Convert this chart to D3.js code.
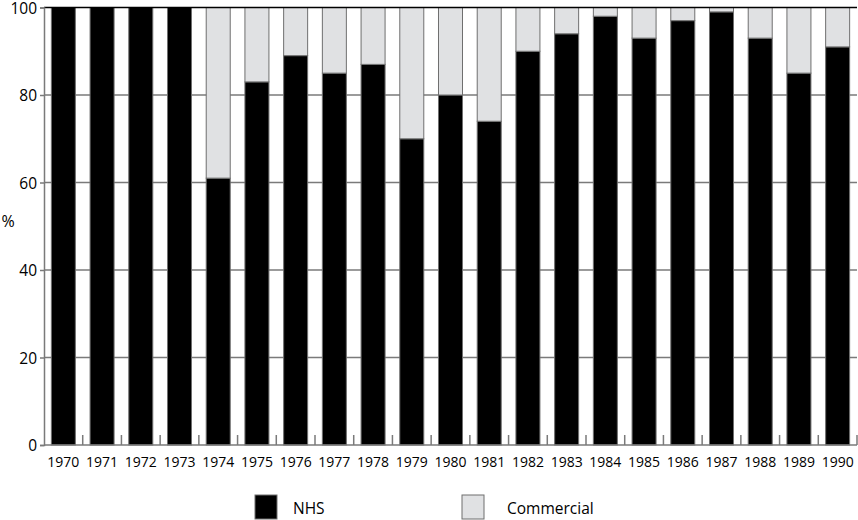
<!DOCTYPE html>
<html>
<head>
<meta charset="utf-8">
<script src="https://cdn.jsdelivr.net/npm/d3@7"></script>
<style>
  body { margin: 0; background: #fff; }
  svg text { font-family: "Open Sans", "Noto Sans", sans-serif; fill: #000; }
</style>
</head>
<body>
<svg id="chart" width="858" height="520"></svg>
<script>
const years = ['1970', '1971', '1972', '1973', '1974', '1975', '1976', '1977', '1978', '1979',
    '1980', '1981', '1982', '1983', '1984', '1985', '1986', '1987', '1988', '1989', '1990'];
const nhs = [100, 100, 100, 100, 61, 83, 89, 85, 87, 70, 80, 74, 90, 94, 98, 93, 97, 99, 93, 85, 91];
const commercial = nhs.map(v => 100 - v);
const yTicks = [0, 20, 40, 60, 80, 100];
const seriesNames = ['NHS', 'Commercial'];
const seriesColors = ['#000000', '#e0e1e3'];

const margin = { top: 7.5, right: 1, bottom: 75, left: 44 };
const width = 858 - margin.left - margin.right;
const height = 520 - margin.top - margin.bottom;

const svg = d3.select('#chart');
const g = svg.append('g').attr('transform', `translate(${margin.left},${margin.top})`);

const x = d3.scaleBand().domain(years).range([0, width]).paddingInner(0.38).paddingOuter(0.19);
const y = d3.scaleLinear().domain([0, 100]).range([height, 0]);

// gridlines
g.append('g')
    .selectAll('line')
    .data(yTicks.filter(t => t > 0 && t < 100))
    .join('line')
    .attr('x1', 0).attr('x2', width)
    .attr('y1', d => y(d)).attr('y2', d => y(d))
    .attr('stroke', '#7a7a7a').attr('stroke-width', 1.5);

// stacked bars
const rows = years.map((yr, i) => ({ year: yr, NHS: nhs[i], Commercial: commercial[i] }));
const stacked = d3.stack().keys(seriesNames)(rows);

g.append('g')
    .selectAll('g')
    .data(stacked)
    .join('g')
    .attr('fill', (d, i) => seriesColors[i])
    .selectAll('rect')
    .data(d => d.filter(p => p[1] - p[0] > 0))
    .join('rect')
    .attr('x', d => x(d.data.year))
    .attr('y', d => y(d[1]))
    .attr('width', x.bandwidth())
    .attr('height', d => y(d[0]) - y(d[1]))
    .attr('stroke', '#6f6f6f')
    .attr('stroke-width', 1);

// top line at 100
g.append('line')
    .attr('x1', 0).attr('x2', width)
    .attr('y1', y(100)).attr('y2', y(100))
    .attr('stroke', '#000').attr('stroke-width', 1.5);

// y axis
const yAxis = g.append('g')
    .call(d3.axisLeft(y).tickValues(yTicks).tickSize(4).tickPadding(3));
yAxis.select('.domain').attr('stroke', '#7a7a7a').attr('stroke-width', 1.5);
yAxis.selectAll('.tick line').attr('stroke', '#7a7a7a').attr('stroke-width', 1.5);
yAxis.selectAll('text').style('font-size', '15.5px').attr('dy', '0.36em');

// x axis with ticks between bars
const xAxis = g.append('g').attr('transform', `translate(0,${height})`);
xAxis.append('line')
    .attr('x1', 0).attr('x2', width)
    .attr('stroke', '#7a7a7a').attr('stroke-width', 1.5);
xAxis.selectAll('.sep')
    .data(years.slice(1).concat(['end']))
    .join('line')
    .attr('class', 'sep')
    .attr('x1', (d, i) => x.step() * (i + 1)).attr('x2', (d, i) => x.step() * (i + 1))
    .attr('y1', 0).attr('y2', -10)
    .attr('stroke', '#7a7a7a').attr('stroke-width', 1.5);
xAxis.selectAll('text')
    .data(years)
    .join('text')
    .attr('x', d => x(d) + x.bandwidth() / 2)
    .attr('y', 22)
    .attr('text-anchor', 'middle')
    .style('font-size', '14px')
    .text(d => d);

// y label
svg.append('text')
    .attr('x', 8).attr('y', 227)
    .attr('text-anchor', 'middle')
    .style('font-size', '16px')
    .text('%');

// legend
const legendX = [255, 462];
const legend = svg.append('g');
seriesNames.forEach((name, i) => {
    legend.append('rect')
        .attr('x', legendX[i]).attr('y', 495)
        .attr('width', 22).attr('height', 24)
        .attr('fill', seriesColors[i])
        .attr('stroke', '#6f6f6f').attr('stroke-width', 1);
    legend.append('text')
        .attr('x', legendX[i] + 38 + (i === 1 ? 7 : 0)).attr('y', 514)
        .style('font-size', '15.5px')
        .text(name);
});
</script>
</body>
</html>
